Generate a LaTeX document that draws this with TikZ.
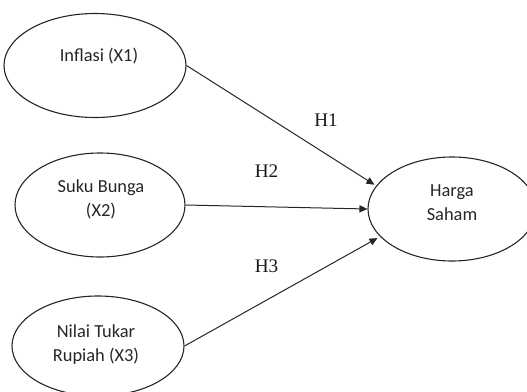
\documentclass[tikz,border=0pt]{standalone}
\usepackage{fontspec}
\setmainfont{Liberation Serif}
\newfontfamily\varfont{Carlito}
\usetikzlibrary{arrows.meta,shapes.geometric}
\tikzset{
  var/.style={ellipse, draw=black!85, line width=0.55pt, inner sep=0pt},
  vartext/.style={font=\varfont\fontsize{9.2}{12}\selectfont, align=center, inner sep=0pt, text=black!85},
  hyp/.style={font=\fontsize{9.6}{11}\selectfont, inner sep=0pt, text=black!90},
  effect/.style={-{Triangle[length=4pt,width=3.6pt]}, line width=0.5pt, draw=black!85},
}

\begin{document}
\begin{tikzpicture}[x=0.5pt, y=-0.5pt]
  \useasboundingbox (0,0) rectangle (527,392);
  % Variabel bebas
  \node[var, minimum width=91pt, minimum height=52pt] (x1) at (95,65.5) {};
  \node[var, minimum width=85pt, minimum height=52pt] (x2) at (100,205) {};
  \node[var, minimum width=86pt, minimum height=50pt] (x3) at (98,346) {};
  % Variabel terikat
  \node[var, minimum width=84pt, minimum height=52pt] (hs) at (452,209) {};
  % Teks
  \node[vartext] (x1t) at (99,56.5) {Inflasi (X1)};
  \node[vartext] (x2t) at (101,199.5) {Suku Bunga\\(X2)};
  \node[vartext] (x3t) at (96,344.5) {Nilai Tukar\\Rupiah (X3)};
  \node[vartext] (hst) at (452,203) {Harga\\Saham};
  % Hipotesis
  \draw[effect, shorten >=1pt] (x1.east) -- (hs.163);
  \draw[effect] (x2.east) -- (hs.west);
  \draw[effect, shorten >=1.5pt] (x3.east) -- (hs.201);
  \node[hyp] (h1) at (326,120) {H1};
  \node[hyp] (h2) at (266.5,171) {H2};
  \node[hyp] (h3) at (266.5,266.5) {H3};
\end{tikzpicture}
\end{document}
